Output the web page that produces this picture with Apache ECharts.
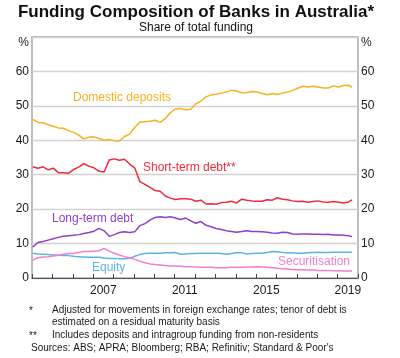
<!DOCTYPE html>
<html>
<head>
<meta charset="utf-8">
<script src="https://cdn.jsdelivr.net/npm/echarts@6/dist/echarts.min.js"></script>
<style>
html,body{margin:0;padding:0;background:#fff;}
#chart{width:400px;height:358px;}
</style>
</head>
<body>
<div id="chart"></div>
<script>
// Quarterly observations (month of observation), Jan 2004 – Sep 2019
const dates = [];
for (let y = 2004; y <= 2018; y++) { ['01','04','07','10'].forEach(m => dates.push(y + '-' + m)); }
['2019-01','2019-04','2019-07','2019-09'].forEach(d => dates.push(d));

const domesticDeposits = [
  46.1,45.2,45.1,44.5, 44.1,43.6,43.5,42.8, 42.3,41.5,40.4,40.9, 41.0,40.5,40.0,40.2,
  39.9,39.8,41.1,41.8, 43.7,45.3,45.4,45.5, 45.8,45.2,46.3,48.0, 49.1,49.2,48.9,49.0,
  50.6,51.4,52.6,53.2, 53.4,53.7,54.0,54.5, 54.3,53.8,53.9,54.2, 54.0,53.6,53.2,53.6,
  53.3,53.7,54.0,54.5, 55.1,55.7,55.5,55.7, 55.5,55.2,55.2,55.8, 55.5,55.9,56.0,55.4
];
const shortTermDebt = [
  32.3,31.9,32.3,31.4, 31.9,30.6,30.6,30.4, 31.5,32.2,33.2,32.5, 32.0,31.0,30.8,34.3,
  34.6,34.2,34.5,33.1, 32.0,28.0,27.2,26.3, 25.4,25.2,23.8,23.2, 22.8,23.0,23.0,22.9,
  22.3,22.6,21.5,21.6, 21.4,21.9,22.0,22.3, 21.8,22.9,22.6,22.4, 22.3,22.3,22.7,22.6,
  23.3,22.9,22.7,22.4, 22.2,22.3,22.0,22.2, 22.4,22.1,22.0,22.2, 22.0,21.8,22.1,22.7
];
const longTermDebt = [
  9.0,10.3,10.6,11.0, 11.4,11.8,12.1,12.3, 12.4,12.6,12.9,13.2, 13.6,14.4,13.7,12.1,
  12.6,13.2,13.4,13.2, 13.4,15.2,15.8,16.8, 17.6,17.8,17.6,17.8, 17.4,17.0,17.4,16.6,
  15.9,16.4,15.3,14.9, 14.4,14.1,13.7,13.5, 13.3,13.5,13.7,13.5, 13.5,13.4,13.3,13.1,
  13.0,13.3,13.2,12.8, 12.7,12.8,12.8,12.7, 12.7,12.6,12.7,12.5, 12.5,12.4,12.3,12.0
];
const equity = [
  7.2,7.0,6.9,6.8, 6.7,6.6,6.5,6.5, 6.3,6.2,6.1,6.0, 6.0,6.0,5.8,5.7,
  5.7,5.6,5.6,5.7, 6.3,6.8,7.1,7.2, 7.2,7.2,7.3,7.3, 7.4,6.9,7.0,7.1,
  7.1,7.2,7.2,7.2, 7.2,7.1,6.9,7.1, 7.3,7.3,7.0,7.1, 7.2,7.2,7.4,7.7,
  7.6,7.4,7.3,7.3, 7.2,7.2,7.3,7.4, 7.5,7.4,7.4,7.5, 7.5,7.5,7.5,7.5
];
const securitisation = [
  5.2,5.9,6.1,6.2, 6.4,6.6,6.9,7.1, 7.1,7.4,7.7,7.7, 7.8,7.9,8.6,7.8,
  7.2,6.7,6.2,5.9, 5.4,4.9,4.4,4.1, 3.9,3.8,3.6,3.5, 3.5,3.4,3.3,3.3,
  3.2,3.1,3.1,3.1, 3.0,3.0,3.0,3.1, 3.1,3.1,3.2,3.2, 3.3,3.2,3.1,3.0,
  2.8,2.7,2.6,2.5, 2.4,2.4,2.3,2.3, 2.2,2.2,2.2,2.1, 2.1,2.0,2.0,2.0
];
const yTicks = [0, 10, 20, 30, 40, 50, 60];
const yearLabels = [2007, 2011, 2015, 2019];

const colors = {
  deposits: '#F7B11E',
  shortTerm: '#EC2B3B',
  longTerm: '#8E3FCB',
  equity: '#5CB4E6',
  secur: '#F47ECB'
};

function toX(d) {
  const [y, m] = d.split('-').map(Number);
  return y + (m - 0.5) / 12;
}
function pairs(vals) { return vals.map((v, i) => [toX(dates[i]), v]); }

const FONT = 'Liberation Sans, Arial, sans-serif';
const chart = echarts.init(document.getElementById('chart'), null, {renderer: 'canvas'});

function lineSeries(name, vals, color) {
  return {
    name, type: 'line', data: pairs(vals), showSymbol: false, symbol: 'none',
    lineStyle: {color, width: 1.5}, itemStyle: {color}, animation: false, z: 3
  };
}

function txt(text, x, y, color, size, opts) {
  return Object.assign({
    type: 'text', silent: true,
    style: {text, x, y, fill: color, font: (size || 12) + 'px ' + FONT,
      textAlign: 'left', textVerticalAlign: 'middle', align: 'left', verticalAlign: 'middle'}
  }, opts || {});
}

chart.setOption({
  animation: false,
  backgroundColor: '#fff',
  grid: {left: 32, top: 37, width: 326, height: 241, show: true, borderColor: '#a8a8a8', borderWidth: 1.5, containLabel: false},
  xAxis: [
    {type: 'value', min: 2004, max: 2020, interval: 1, position: 'bottom',
      axisLine: {show: true, lineStyle: {color: '#555', width: 1}},
      axisTick: {show: true, inside: true, length: 4, lineStyle: {color: '#444', width: 1}},
      axisLabel: {show: false}, splitLine: {show: false}},
    {type: 'value', min: 2004, max: 2020, interval: 0.5, position: 'bottom',
      axisLine: {show: false}, axisTick: {show: false}, splitLine: {show: false},
      axisLabel: {show: true, margin: 7, color: '#1a1a1a', fontSize: 12, fontFamily: FONT,
        formatter: v => { const y = Math.round(v - 0.5); return (Math.abs(v - 0.5 - y) < 1e-6 && yearLabels.indexOf(y) >= 0) ? String(y) : ''; }}}
  ],
  yAxis: [
    {type: 'value', min: 0, max: 70, interval: 10, position: 'left',
      axisLine: {show: false}, axisTick: {show: false},
      splitLine: {show: true, lineStyle: {color: '#d2d2d2', width: 1.3}},
      axisLabel: {margin: 3, color: '#1a1a1a', fontSize: 12, fontFamily: FONT,
        formatter: v => yTicks.indexOf(v) >= 0 ? String(v) : ''}},
    {type: 'value', min: 0, max: 70, interval: 10, position: 'right',
      axisLine: {show: false}, axisTick: {show: false}, splitLine: {show: false},
      axisLabel: {margin: 3, color: '#1a1a1a', fontSize: 12, fontFamily: FONT,
        formatter: v => yTicks.indexOf(v) >= 0 ? String(v) : ''}}
  ],
  series: [
    lineSeries('Domestic deposits', domesticDeposits, colors.deposits),
    lineSeries('Short-term debt**', shortTermDebt, colors.shortTerm),
    lineSeries('Long-term debt', longTermDebt, colors.longTerm),
    lineSeries('Equity', equity, colors.equity),
    lineSeries('Securitisation', securitisation, colors.secur)
  ],
  graphic: [
    {type: 'text', silent: true, style: {text: 'Funding Composition of Banks in Australia*', x: 196, y: 12,
      fill: '#111', font: 'bold 17px ' + FONT, textAlign: 'center', align: 'center', textVerticalAlign: 'middle', verticalAlign: 'middle'}},
    {type: 'text', silent: true, style: {text: 'Share of total funding', x: 196, y: 28,
      fill: '#111', font: '12px ' + FONT, textAlign: 'center', align: 'center', textVerticalAlign: 'middle', verticalAlign: 'middle'}},
    txt('%', 29, 43, '#1a1a1a', 12, {style: {text: '%', x: 29, y: 43, fill: '#1a1a1a', font: '12px ' + FONT, textAlign: 'right', align: 'right', textVerticalAlign: 'middle', verticalAlign: 'middle'}}),
    txt('%', 361, 43, '#1a1a1a', 12),
    txt('Domestic deposits', 73, 98, colors.deposits, 12),
    txt('Short-term debt**', 143, 168, colors.shortTerm, 12),
    txt('Long-term debt', 52, 219, colors.longTerm, 12),
    txt('Equity', 92, 268, colors.equity, 12),
    txt('Securitisation', 278, 262, colors.secur, 12),
    txt('*', 29, 311, '#1a1a1a', 10),
    txt('Adjusted for movements in foreign exchange rates; tenor of debt is', 52, 310, '#1a1a1a', 10),
    txt('estimated on a residual maturity basis', 52, 322, '#1a1a1a', 10),
    txt('**', 29, 336, '#1a1a1a', 10),
    txt('Includes deposits and intragroup funding from non-residents', 52, 335.5, '#1a1a1a', 10),
    txt("Sources: ABS; APRA; Bloomberg; RBA; Refinitiv; Standard & Poor's", 31, 348, '#1a1a1a', 10)
  ]
});
</script>
</body>
</html>
